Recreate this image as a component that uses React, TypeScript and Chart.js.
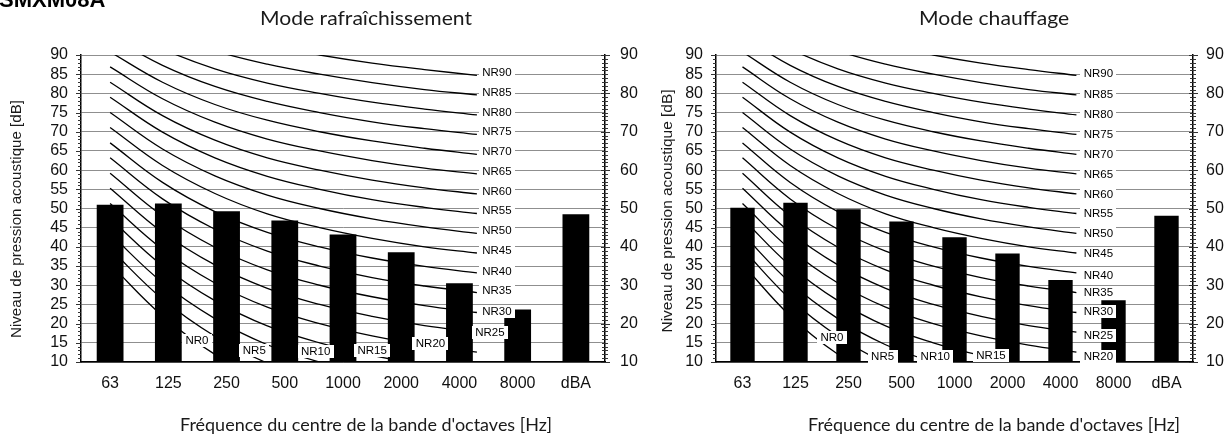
import React, { useEffect, useRef } from 'react';
import { Chart, registerables } from 'chart.js';

Chart.register(...registerables);

// ---------- data ----------
const categories = ['63', '125', '250', '500', '1000', '2000', '4000', '8000', 'dBA'];
const coolingLevels = [51.0, 51.3, 49.3, 46.9, 43.2, 38.6, 30.5, 23.7, 48.5];
const heatingLevels = [50.2, 51.5, 49.8, 46.6, 42.5, 38.3, 31.4, 26.1, 48.1];

const nrBands = ['63', '125', '250', '500', '1000', '2000', '4000', '8000'];
const nr0 = [35.5, 22.0, 12.0, 4.8, 0.0, -3.5, -6.1, -8.0];
const nr5 = [39.5, 26.4, 16.7, 9.7, 5.0, 1.6, -1.0, -2.9];
const nr10 = [43.4, 30.7, 21.3, 14.5, 10.0, 6.7, 4.2, 2.3];
const nr15 = [47.4, 35.1, 26.0, 19.4, 15.0, 11.7, 9.3, 7.5];
const nr20 = [51.3, 39.4, 30.6, 24.3, 20.0, 16.8, 14.4, 12.6];
const nr25 = [55.3, 43.8, 35.3, 29.2, 25.0, 21.9, 19.5, 17.8];
const nr30 = [59.2, 48.1, 39.9, 34.0, 30.0, 27.0, 24.7, 22.9];
const nr35 = [63.2, 52.5, 44.6, 38.9, 35.0, 32.0, 29.8, 28.1];
const nr40 = [67.1, 56.8, 49.2, 43.8, 40.0, 37.1, 34.9, 33.2];
const nr45 = [71.1, 61.2, 53.9, 48.6, 45.0, 42.2, 40.0, 38.4];
const nr50 = [75.0, 65.5, 58.5, 53.5, 50.0, 47.3, 45.2, 43.5];
const nr55 = [79.0, 69.9, 63.2, 58.4, 55.0, 52.3, 50.3, 48.7];
const nr60 = [82.9, 74.2, 67.8, 63.2, 60.0, 57.4, 55.4, 53.8];
const nr65 = [86.9, 78.6, 72.5, 68.1, 65.0, 62.5, 60.5, 59.0];
const nr70 = [90.8, 82.9, 77.1, 73.0, 70.0, 67.6, 65.7, 64.1];
const nr75 = [94.8, 87.3, 81.8, 77.9, 75.0, 72.6, 70.8, 69.3];
const nr80 = [98.7, 91.6, 86.4, 82.7, 80.0, 77.7, 75.9, 74.4];
const nr85 = [102.7, 96.0, 91.1, 87.6, 85.0, 82.8, 81.0, 79.6];
const nr90 = [106.6, 100.3, 95.7, 92.5, 90.0, 87.9, 86.2, 84.7];
const nrCurves = [nr0, nr5, nr10, nr15, nr20, nr25, nr30, nr35, nr40, nr45, nr50, nr55, nr60, nr65, nr70, nr75, nr80, nr85, nr90];
const nrNames = ['NR0', 'NR5', 'NR10', 'NR15', 'NR20', 'NR25', 'NR30', 'NR35', 'NR40', 'NR45', 'NR50', 'NR55', 'NR60', 'NR65', 'NR70', 'NR75', 'NR80', 'NR85', 'NR90'];

const yTitle = 'Niveau de pression acoustique [dB]';
const xTitle = "Fréquence du centre de la bande d'octaves [Hz]";
const coolingTitle = 'Mode rafraîchissement';
const heatingTitle = 'Mode chauffage';
const modelName = 'SMXM08A';

// label placement (band index where the label sits, pixel offsets)
const coolingLabelBand = [2, 3, 4, 5, 6, 7, 7, 7, 7, 7, 7, 7, 7, 7, 7, 7, 7, 7, 7];
const coolingLabelDx = [-18, -13, -4, 0, 6, 13, 20, 20, 20, 20, 20, 20, 20, 20, 20, 20, 20, 20, 20];
const coolingLabelDy = [-14, -13, -11, -5, -2, 0, -1, -2, -2, -3, -3, -3, -3, -3, -3, -3, -3, -3, -3];
const heatingLabelBand = [2, 3, 4, 5, 7, 7, 7, 7, 7, 7, 7, 7, 7, 7, 7, 7, 7, 7, 7];
const heatingLabelDx = [-6, -3, 2, 10, 22, 22, 22, 22, 22, 22, 22, 22, 22, 22, 22, 22, 22, 22, 22];
const heatingLabelDy = [-17, -7, -6, 0, 4, 3, -1, 0, 2, 0, 0, 0, 0, 0, 0, 0, -1, -1, -2];

const TICK_FONT = '"Liberation Sans", Arial, sans-serif';
const TITLE_FONT = 'Lato, "Open Sans", sans-serif';

type Panel = {
  left: number;
  width: number;
  levels: number[];
  title: string;
  areaLeft: number;
  areaRight: number;
  titleCx: number;
  titleW: number;
  xTitleCx: number;
  yTitleCx: number;
  yTitleCy: number;
  yTitleW: number;
  y2Pad: number;
  labelBand: number[];
  labelDx: number[];
  labelDy: number[];
  corner: boolean;
};

const panels: Panel[] = [
  {
    left: 0, width: 650, levels: coolingLevels, title: coolingTitle,
    areaLeft: 81, areaRight: 605, titleCx: 366, titleW: 212, xTitleCx: 366,
    yTitleCx: 17, yTitleCy: 219, yTitleW: 238, y2Pad: 15,
    labelBand: coolingLabelBand, labelDx: coolingLabelDx, labelDy: coolingLabelDy, corner: true,
  },
  {
    left: 650, width: 582, levels: heatingLevels, title: heatingTitle,
    areaLeft: 66, areaRight: 543, titleCx: 344, titleW: 0, xTitleCx: 344,
    yTitleCx: 18, yTitleCy: 211, yTitleW: 243, y2Pad: 13,
    labelBand: heatingLabelBand, labelDx: heatingLabelDx, labelDy: heatingLabelDy, corner: false,
  },
];

const TITLE_SCALE = { v: 1 };

function fitText(ctx: CanvasRenderingContext2D, text: string, cx: number, cy: number, font: string, scaleX: number, rotate: boolean, baseline: CanvasTextBaseline = 'middle') {
  ctx.save();
  ctx.font = font;
  ctx.translate(cx, cy);
  if (rotate) ctx.rotate(-Math.PI / 2);
  ctx.scale(scaleX, 1);
  ctx.textAlign = 'center';
  ctx.textBaseline = baseline;
  ctx.fillText(text, 0, 0);
  ctx.restore();
}

function makeDecor(panel: Panel) {
  return {
    id: 'decor',
    afterDatasetsDraw(chart: any) {
      const ctx: CanvasRenderingContext2D = chart.ctx;
      ctx.save();
      ctx.font = '11.5px ' + TICK_FONT;
      ctx.textAlign = 'center';
      ctx.textBaseline = 'middle';
      nrNames.forEach((name, i) => {
        const meta = chart.getDatasetMeta(i + 1);
        const pt = meta.data[panel.labelBand[i]];
        if (!pt) return;
        const cx = pt.x + panel.labelDx[i];
        const cy = pt.y + panel.labelDy[i];
        const w = ctx.measureText(name).width + 7;
        const h = 13;
        ctx.fillStyle = '#fff';
        ctx.fillRect(Math.round(cx - w / 2), Math.round(cy - h / 2), Math.round(w), h);
        ctx.fillStyle = '#000';
        ctx.fillText(name, cx, cy + 0.5);
      });
      ctx.restore();
    },
    afterDraw(chart: any) {
      const ctx: CanvasRenderingContext2D = chart.ctx;
      const y = chart.scales.y;
      const area = chart.chartArea;
      ctx.save();
      ctx.strokeStyle = '#333';
      ctx.lineWidth = 1;
      for (let v = 10; v <= 90; v++) {
        const py = Math.round(y.getPixelForValue(v)) + 0.5;
        const major = v % 5 === 0;
        ctx.beginPath();
        ctx.moveTo(area.left - (major ? 5 : 3), py);
        ctx.lineTo(area.left, py);
        ctx.stroke();
        const major2 = v % 10 === 0;
        ctx.beginPath();
        ctx.moveTo(area.right - (major2 ? 4 : 3), py);
        ctx.lineTo(area.right + (major2 ? 5 : 3), py);
        ctx.stroke();
      }
      ctx.restore();

      ctx.save();
      ctx.fillStyle = '#1a1a1a';
      const tFont = '20px ' + TITLE_FONT;
      ctx.font = tFont;
      if (panel.titleW > 0) {
        TITLE_SCALE.v = panel.titleW / ctx.measureText(panel.title).width;
      }
      fitText(ctx, panel.title, panel.titleCx, 25, tFont, TITLE_SCALE.v, false, 'alphabetic');
      const xFont = '17px ' + TITLE_FONT;
      ctx.font = xFont;
      const xs = 372 / ctx.measureText(xTitle).width;
      fitText(ctx, xTitle, panel.xTitleCx, 431, xFont, xs, false, 'alphabetic');
      const yFont = '15px ' + TICK_FONT;
      ctx.font = yFont;
      const ys = panel.yTitleW / ctx.measureText(yTitle).width;
      fitText(ctx, yTitle, panel.yTitleCx, panel.yTitleCy, yFont, ys, true);
      if (panel.corner) {
        ctx.font = 'bold 22px ' + TICK_FONT;
        ctx.fillStyle = '#000';
        ctx.textAlign = 'left';
        ctx.textBaseline = 'alphabetic';
        ctx.fillText(modelName, -1, 7);
      }
      ctx.restore();
    },
  };
}

function makeConfig(panel: Panel): any {
  const curveDatasets = nrCurves.map((curve, i) => ({
    type: 'line',
    label: nrNames[i],
    data: curve.map((v, j) => ({ x: j, y: v })),
    xAxisID: 'xc',
    yAxisID: 'y',
    borderColor: '#000',
    borderWidth: 1.3,
    pointRadius: 0,
    tension: 0.4,
    fill: false,
    order: 1,
  }));
  return {
    type: 'bar',
    data: {
      labels: categories,
      datasets: [
        {
          type: 'bar',
          label: panel.title,
          data: panel.levels,
          backgroundColor: '#000',
          borderWidth: 0,
          grouped: false,
          barPercentage: 0.46,
          categoryPercentage: 1,
          xAxisID: 'x',
          yAxisID: 'y',
          order: 0,
        },
        ...curveDatasets,
      ],
    },
    options: {
      responsive: false,
      animation: false,
      events: [],
      layout: { padding: { top: 55, left: 0, right: 0, bottom: 0 } },
      elements: { line: { capBezierPoints: false } },
      plugins: { legend: { display: false }, tooltip: { enabled: false }, title: { display: false } },
      scales: {
        x: {
          type: 'category',
          position: 'bottom',
          offset: true,
          grid: { display: false, drawTicks: false },
          border: { display: true, color: '#000', width: 1.5 },
          ticks: { font: { family: TICK_FONT, size: 16 }, color: '#111', padding: 12, maxRotation: 0, autoSkip: false },
          afterFit: (s: any) => { s.height = 75; },
        },
        xc: {
          type: 'linear',
          display: false,
          offset: false,
          grid: { offset: false },
          min: -5 / 9,
          max: 85 / 9,
        },
        y: {
          position: 'left',
          min: 10,
          max: 90,
          ticks: { stepSize: 5, autoSkip: false, font: { family: TICK_FONT, size: 16 }, color: '#111', padding: 13 },
          grid: { color: '#8f8f8f', lineWidth: 1, drawTicks: false },
          border: { display: true, color: '#000', width: 1.5 },
          afterFit: (s: any) => { s.width = panel.areaLeft; },
        },
        y2: {
          position: 'right',
          min: 10,
          max: 90,
          ticks: { stepSize: 10, autoSkip: false, font: { family: TICK_FONT, size: 16 }, color: '#111', padding: panel.y2Pad },
          grid: { display: false, drawTicks: false },
          border: { display: true, color: '#000', width: 1.5 },
          afterFit: (s: any) => { s.width = panel.width - panel.areaRight; },
        },
      },
    },
    plugins: [makeDecor(panel)],
  };
}

function PanelChart({ panel }: { panel: Panel }) {
  const ref = useRef<HTMLCanvasElement | null>(null);
  useEffect(() => {
    if (!ref.current) return;
    const chart = new Chart(ref.current, makeConfig(panel));
    return () => chart.destroy();
  }, [panel]);
  return (
    <canvas
      ref={ref}
      width={panel.width}
      height={437}
      style={{ position: 'absolute', left: panel.left, top: 0, width: panel.width, height: 437 }}
    />
  );
}

export default function App() {
  return (
    <div style={{ position: 'absolute', left: 0, top: 0, width: 1232, height: 437, background: '#fff', overflow: 'hidden' }}>
      {panels.map((p) => (
        <PanelChart key={p.title} panel={p} />
      ))}
    </div>
  );
}
